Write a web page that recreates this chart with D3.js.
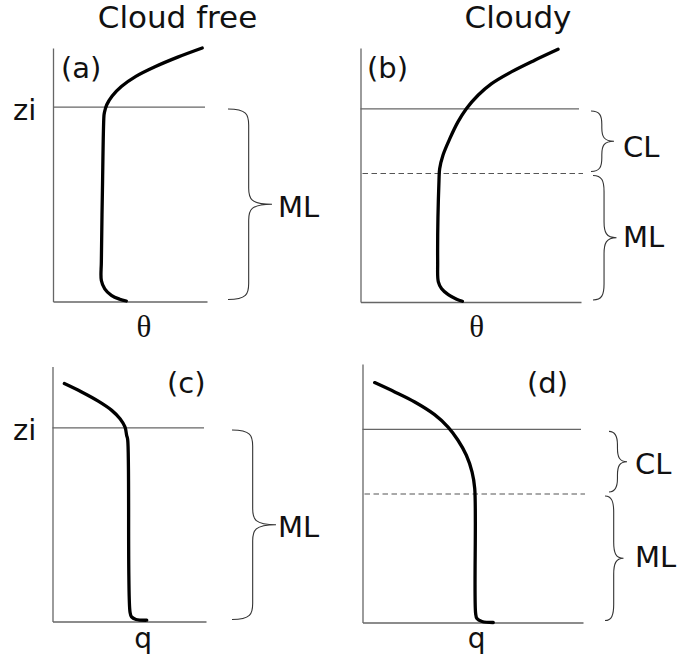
<!DOCTYPE html>
<html>
<head>
<meta charset="utf-8">
<script src="https://cdn.jsdelivr.net/npm/d3@7"></script>
<style>
  html, body { margin: 0; padding: 0; background: #fff; }
  svg { display: block; }
  text { font-family: "DejaVu Sans", sans-serif; fill: #111; }
</style>
</head>
<body>
<svg id="chart" width="684" height="663"></svg>
<script>
// Idealised boundary-layer profiles, value (0-100, arbitrary units) vs height (0-100, arbitrary units)
// Each point is [value, height].
const thetaClear = [
  [47.6, 0.2], [43.3, 0.9], [37.9, 2.4], [33.6, 5.0], [31.4, 8.3], [31.4, 15.8],
  [32.1, 44.0], [33.1, 73.4], [33.4, 74.6], [34.9, 77.6], [38.3, 81.0], [44.4, 84.8],
  [53.8, 88.8], [66.2, 92.6], [81.0, 96.4], [96.9, 100]
];
const thetaCloudy = [
  [46.2, 0.3], [43.6, 1.1], [39.8, 2.9], [36.8, 5.2], [35.3, 7.9], [35.0, 15.7],
  [35.6, 47.9], [35.9, 52.5], [37.4, 57.8], [40.5, 64.3], [44.2, 70.9], [48.0, 76.1],
  [53.3, 81.4], [59.3, 85.9], [68.4, 90.6], [79.0, 95.2], [89.6, 99.5]
];
const qClear = [
  [61.4, 0.5], [54.4, 0.8], [51.5, 1.8], [50.5, 3.7], [49.0, 71.2], [48.3, 73.0],
  [47.2, 76.3], [44.0, 79.5], [38.6, 82.8], [29.8, 86.4], [19.0, 90.0], [7.7, 93.3]
];
const qCloudy = [
  [59.3, 0.0], [54.2, 0.4], [51.9, 1.5], [51.3, 3.6], [50.9, 51.8], [49.7, 58.2],
  [47.1, 64.7], [43.3, 70.5], [38.8, 75.6], [32.7, 80.4], [23.7, 85.3], [14.6, 89.2],
  [5.5, 92.8]
];

// Layer boundaries (height units): inversion height zi and cloud base
const panelIds      = ["a", "b", "c", "d"];
const columnTitles  = ["Cloud free", "Cloudy"];
const variableNames = ["\u03B8", "\u03B8", "q", "q"];
const variableAt    = [59, 52.7, 59, 51.8];
const inversionZ    = [76.7, 76.0, 75.9, 74.7];
const cloudBaseZ    = [null, 50.6, null, 49.7];
const profiles      = [thetaClear, thetaCloudy, qClear, qCloudy];

// Panel frames on the page: letter position, and per brace
// [offset from the axis end, brace width, label x, label baseline]
const frames = [
  { x0: 53,    x1: 207, yb: 301.5, yt: 48,    letter: [61, 78],
    brace: [[21, 44, 278, 217]] },
  { x0: 360.5, x1: 581, yb: 302,   yt: 48,    letter: [367, 78],
    brace: [[10, 23, 623, 156.5], [12, 23.5, 623, 246.5]] },
  { x0: 52.5,  x1: 206, yb: 621.5, yt: 366.5, letter: [167, 393],
    brace: [[26, 44, 278, 537]] },
  { x0: 362.5, x1: 583, yb: 622.5, yt: 364,   letter: [527, 393],
    brace: [[26, 18, 635, 473.5], [22, 18.5, 635, 567]] }
];

const svg = d3.select("#chart");

// Curly brace spanning y1..y2, opening at xl, spine at xm, tip at xt
function bracePath(xl, xm, xt, y1, y2, ym) {
  const r = Math.min(16, (y2 - y1) / 4.5);
  const p = d3.path();
  p.moveTo(xl, y1);
  p.bezierCurveTo(xm - 2, y1, xm, y1 + r * 0.35, xm, y1 + r);
  p.lineTo(xm, ym - r);
  p.bezierCurveTo(xm, ym - r * 0.35, xm + 2, ym, xt, ym);
  p.bezierCurveTo(xm + 2, ym, xm, ym + r * 0.35, xm, ym + r);
  p.lineTo(xm, y2 - r);
  p.bezierCurveTo(xm, y2 - r * 0.35, xm - 2, y2, xl, y2);
  return p.toString();
}

frames.forEach((f, i) => {
  const x = d3.scaleLinear().domain([0, 100]).range([f.x0, f.x1]);
  const y = d3.scaleLinear().domain([0, 100]).range([f.yb, f.yt]);
  const g = svg.append("g");

  // Bare axes: domain lines only
  const ax = g.append("g").attr("transform", `translate(0,${f.yb})`)
    .call(d3.axisBottom(x).ticks(0).tickSizeOuter(0));
  const ay = g.append("g").attr("transform", `translate(${f.x0},0)`)
    .call(d3.axisLeft(y).ticks(0).tickSizeOuter(0));
  [ax, ay].forEach(a => a.select(".domain").attr("stroke", "#666").attr("stroke-width", 1.3));

  // Inversion height
  g.append("line")
    .attr("x1", x(0)).attr("x2", x(100) - 2)
    .attr("y1", y(inversionZ[i])).attr("y2", y(inversionZ[i]))
    .attr("stroke", "#666").attr("stroke-width", 1.3);

  // Cloud base
  if (cloudBaseZ[i] !== null) {
    g.append("line")
      .attr("x1", x(0) + 2).attr("x2", x(100) + 2)
      .attr("y1", y(cloudBaseZ[i])).attr("y2", y(cloudBaseZ[i]))
      .attr("stroke", "#555").attr("stroke-width", 1.1)
      .attr("stroke-dasharray", "5.5,3.5");
  }

  // Profile
  const line = d3.line()
    .x(d => x(d[0])).y(d => y(d[1]))
    .curve(d3.curveCatmullRom.alpha(0.5));
  g.append("path")
    .datum(profiles[i])
    .attr("d", line)
    .attr("fill", "none")
    .attr("stroke", "#000")
    .attr("stroke-width", 3.3)
    .attr("stroke-linecap", "round")
    .attr("stroke-linejoin", "round");

  // Panel letter
  g.append("text")
    .attr("x", f.letter[0])
    .attr("y", f.letter[1])
    .attr("font-size", 29)
    .text(`(${panelIds[i]})`);

  // Variable name under the axis
  if (i < 2) {
    g.append("text")
      .attr("x", x(variableAt[i]))
      .attr("y", 336.5)
      .attr("text-anchor", "middle")
      .attr("font-size", 31)
      .style("font-family", "'Liberation Serif', serif")
      .text(variableNames[i]);
  } else {
    g.append("text")
      .attr("x", x(variableAt[i]))
      .attr("y", 648)
      .attr("text-anchor", "middle")
      .attr("font-size", 28)
      .text(variableNames[i]);
  }

  // zi label on the left column
  if (i % 2 === 0) {
    g.append("text")
      .attr("x", 13).attr("y", y(inversionZ[i]) + 12.5)
      .attr("font-size", 29)
      .text("zi");
  }

  // Braces and layer names
  const layers = cloudBaseZ[i] === null
    ? [{ name: "ML", z0: 0, z1: inversionZ[i] }]
    : [{ name: "CL", z0: cloudBaseZ[i], z1: inversionZ[i] },
       { name: "ML", z0: 0, z1: cloudBaseZ[i] }];
  layers.forEach((L, k) => {
    const [off, bw, tx, ty] = f.brace[k];
    const y1 = y(L.z1) + 2, y2 = y(L.z0) - 2;
    const ym = (y1 + y2) / 2;
    const xl = f.x1 + off;
    const xm = xl + bw * 0.47;
    const xt = xl + bw;
    g.append("path")
      .attr("d", bracePath(xl, xm, xt, y1, y2, ym))
      .attr("fill", "none").attr("stroke", "#333").attr("stroke-width", 1.1);
    g.append("text")
      .attr("x", tx)
      .attr("y", ty)
      .attr("font-size", 29)
      .text(L.name);
  });
});

// Column titles
svg.selectAll("text.title")
  .data(columnTitles)
  .join("text")
  .attr("class", "title")
  .attr("x", (d, j) => j === 0 ? 177.5 : 518)
  .attr("y", 28)
  .attr("text-anchor", "middle")
  .attr("font-size", 31)
  .text(d => d);
</script>
</body>
</html>
